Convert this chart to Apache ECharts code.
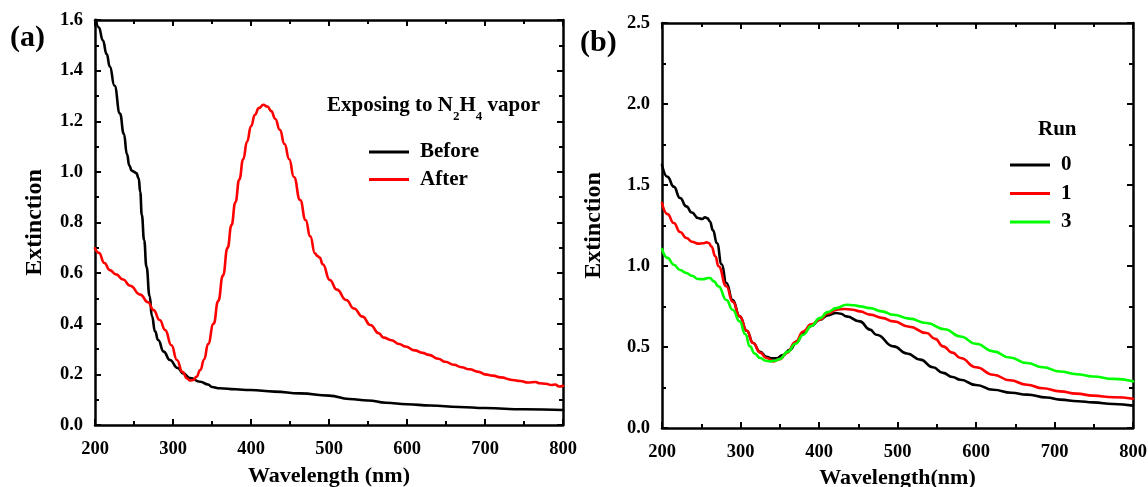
<!DOCTYPE html>
<html><head><meta charset="utf-8">
<script src="https://cdn.jsdelivr.net/npm/echarts@6/dist/echarts.min.js"></script>
<style>html,body{margin:0;padding:0;background:#fff}#c{width:1148px;height:487px}</style>
</head><body><div id="c"></div>
<script>
// ---- Panel (a) data ----
const beforeX = [200,205,210,215,219,225,232,237,241,244,247,250,253,256,258,260,263,266,270,273,277,281,288,296,306,313,322,335,345,350,360,380,399,430,463,500,526,550,573,600,630,667,700,750,800];
const beforeY = [1.63,1.57,1.52,1.465,1.416,1.34,1.23,1.15,1.07,1.025,1.005,1.0,0.995,0.975,0.92,0.83,0.73,0.625,0.51,0.43,0.37,0.336,0.29,0.257,0.225,0.204,0.185,0.171,0.16,0.15,0.145,0.141,0.138,0.132,0.125,0.116,0.103,0.097,0.088,0.082,0.077,0.071,0.067,0.062,0.059];
const afterX = [200,205,212,219,227,236,245,258,268,275,283,290,298,305,312,318,322,326,330,335,340,345,352,358,364,370,375,380,385,390,395,400,405,410,416,421,426,431,437,443,449,455,463,470,476,482,485,488,492,501,510,522,532,543,553,564,570,580,590,598,610,620,628,640,649,660,670,680,692,700,710,720,735,745,755,765,770,778,785,790,795,800];
const afterY = [0.698,0.68,0.64,0.612,0.595,0.575,0.55,0.515,0.485,0.454,0.415,0.375,0.315,0.257,0.21,0.184,0.176,0.178,0.19,0.217,0.26,0.32,0.40,0.49,0.59,0.70,0.79,0.88,0.97,1.05,1.12,1.18,1.225,1.252,1.265,1.258,1.24,1.21,1.166,1.11,1.05,0.98,0.889,0.81,0.745,0.678,0.668,0.662,0.635,0.573,0.535,0.494,0.46,0.428,0.395,0.362,0.345,0.335,0.32,0.31,0.295,0.285,0.277,0.262,0.25,0.238,0.228,0.22,0.21,0.2,0.195,0.188,0.178,0.174,0.168,0.17,0.165,0.163,0.158,0.16,0.152,0.155];

// ---- Panel (b) data ----
const run0X = [200,207,215,223,231,238,246,251,255,258,261,265,270,276,282,290,299,308,316,325,333,340,346,354,363,372,380,390,401,411,422,428,435,452,465,473,495,512,529,545,558,570,580,600,622,645,665,690,707,730,749,775,800];
const run0Y = [1.625,1.55,1.49,1.42,1.368,1.33,1.296,1.29,1.3,1.295,1.275,1.22,1.14,1.01,0.895,0.79,0.689,0.6,0.525,0.47,0.44,0.43,0.43,0.45,0.483,0.535,0.586,0.63,0.668,0.695,0.71,0.705,0.689,0.658,0.607,0.576,0.504,0.46,0.422,0.375,0.34,0.315,0.298,0.265,0.236,0.218,0.206,0.188,0.175,0.165,0.158,0.148,0.138];
const run1X = [200,207,215,223,231,238,246,252,257,260,263,268,272,282,290,299,308,316,325,333,342,350,359,370,380,390,401,411,422,432,443,452,465,480,495,515,537,548,558,570,580,600,622,643,665,685,707,728,749,775,800];
const run1Y = [1.389,1.32,1.265,1.21,1.173,1.15,1.138,1.14,1.146,1.14,1.12,1.06,0.998,0.875,0.78,0.69,0.6,0.525,0.465,0.432,0.411,0.425,0.463,0.53,0.596,0.64,0.668,0.705,0.73,0.735,0.73,0.72,0.70,0.68,0.658,0.625,0.586,0.55,0.504,0.465,0.432,0.375,0.329,0.295,0.267,0.245,0.226,0.212,0.2,0.19,0.181];
const run3X = [200,207,215,223,231,238,246,252,258,261,266,272,282,290,299,306,312,318,325,332,338,344,350,360,370,380,390,401,411,422,435,445,452,465,480,495,515,537,560,580,600,622,643,665,685,707,728,749,775,800];
const run3Y = [1.105,1.05,1.008,0.975,0.957,0.94,0.92,0.918,0.925,0.926,0.905,0.874,0.79,0.73,0.658,0.58,0.504,0.46,0.432,0.415,0.411,0.415,0.426,0.47,0.52,0.576,0.63,0.678,0.715,0.74,0.761,0.758,0.751,0.74,0.72,0.699,0.675,0.648,0.61,0.565,0.52,0.473,0.435,0.401,0.375,0.349,0.332,0.318,0.303,0.288];

const xTicks = { min: 200, max: 800, interval: 100 };
const yTicksA = { min: 0, max: 1.6, interval: 0.2 };
const yTicksB = { min: 0, max: 2.5, interval: 0.5 };

const FONT = 'Liberation Serif';
const pairs = (xs, ys) => xs.map((x, i) => [x, ys[i]]);

function axis(grid, pos, t, showLabel, name, nameGap, nameSize, fmt, labelMargin) {
  return {
    type: 'value', gridIndex: grid, position: pos,
    min: t.min, max: t.max, interval: t.interval,
    name: name || '', nameLocation: 'middle', nameGap: nameGap || 0,
    nameTextStyle: { fontFamily: FONT, fontWeight: 'bold', fontSize: nameSize || 22, color: '#000' },
    axisLine: { show: true, onZero: false, lineStyle: { color: '#000', width: 2.5 } },
    axisTick: { show: true, inside: true, length: 6, lineStyle: { color: '#000', width: 2 } },
    minorTick: { show: true, splitNumber: 2, length: 4, lineStyle: { color: '#000', width: 2 } },
    splitLine: { show: false },
    axisLabel: { show: showLabel, fontFamily: FONT, fontWeight: 'bold', fontSize: 18.5, color: '#000', margin: labelMargin || 9,
      formatter: fmt, showMaxLabel: true, showMinLabel: true }
  };
}
const f1 = v => v.toFixed(1);
const f0 = v => String(v);

function line(name, xi, yi, xs, ys, color) {
  return { name, type: 'line', xAxisIndex: xi, yAxisIndex: yi, data: pairs(xs, ys),
    symbol: 'none', smooth: 0.5, smoothMonotone: 'x', clip: true,
    lineStyle: { color, width: 2.6, join: 'round', cap: 'round' }, itemStyle: { color } };
}

const legendText = { fontFamily: FONT, fontWeight: 'bold', fontSize: 21, color: '#000', lineHeight: 21, padding: [0, 0, 0, 6] };

const chart = echarts.init(document.getElementById('c'), null, { renderer: 'canvas' });
chart.setOption({
  animation: false,
  backgroundColor: '#fff',
  grid: [
    { left: 95, right: 585, top: 20, bottom: 62, containLabel: false, outerBoundsMode: 'none' },
    { left: 662, right: 15, top: 23, bottom: 59, containLabel: false, outerBoundsMode: 'none' }
  ],
  xAxis: [
    axis(0, 'bottom', xTicks, true, 'Wavelength (nm)', 40, 22, f0, 15),
    axis(0, 'top', xTicks, false, '', 0, 22, f0),
    axis(1, 'bottom', xTicks, true, 'Wavelength(nm)', 36, 22, f0, 15),
    axis(1, 'top', xTicks, false, '', 0, 22, f0)
  ],
  yAxis: [
    axis(0, 'left', yTicksA, true, 'Extinction', 48, 24, f1, 12),
    axis(0, 'right', yTicksA, false, '', 0, 24, f1),
    axis(1, 'left', yTicksB, true, 'Extinction', 56, 24, f1, 12),
    axis(1, 'right', yTicksB, false, '', 0, 24, f1)
  ],
  legend: [
    { data: ['Before', 'After'], orient: 'vertical', left: 369, top: 141.5, padding: 0, icon: 'rect', itemWidth: 40, itemHeight: 3, itemGap: 6.5,
      textStyle: legendText },
    { data: ['0', '1', '3'], orient: 'vertical', left: 1010, top: 154.5, padding: 0, icon: 'rect', itemWidth: 40, itemHeight: 3, itemGap: 7.5,
      textStyle: legendText }
  ],
  graphic: [
    { type: 'text', left: 10, top: 23, style: { text: '(a)', fontFamily: FONT, fontWeight: 'bold', fontSize: 30, fill: '#000' } },
    { type: 'text', left: 580, top: 28, style: { text: '(b)', fontFamily: FONT, fontWeight: 'bold', fontSize: 30, fill: '#000' } },
    { type: 'text', left: 327, top: 95, style: {
        text: 'Exposing to N{sub|2}H{sub|4} vapor', fontFamily: FONT, fontWeight: 'bold', fontSize: 21, fill: '#000',
        rich: { sub: { fontFamily: FONT, fontWeight: 'bold', fontSize: 13, fill: '#000', verticalAlign: 'bottom', lineHeight: 36 } } } },
    { type: 'text', left: 1038, top: 119, style: { text: 'Run', fontFamily: FONT, fontWeight: 'bold', fontSize: 21, fill: '#000' } }
  ],
  series: [
    line('Before', 0, 0, beforeX, beforeY, '#000000'),
    line('After', 0, 0, afterX, afterY, '#ff0000'),
    line('0', 2, 2, run0X, run0Y, '#000000'),
    line('1', 2, 2, run1X, run1Y, '#ff0000'),
    line('3', 2, 2, run3X, run3Y, '#00ff00')
  ]
});
</script>
</body></html>
